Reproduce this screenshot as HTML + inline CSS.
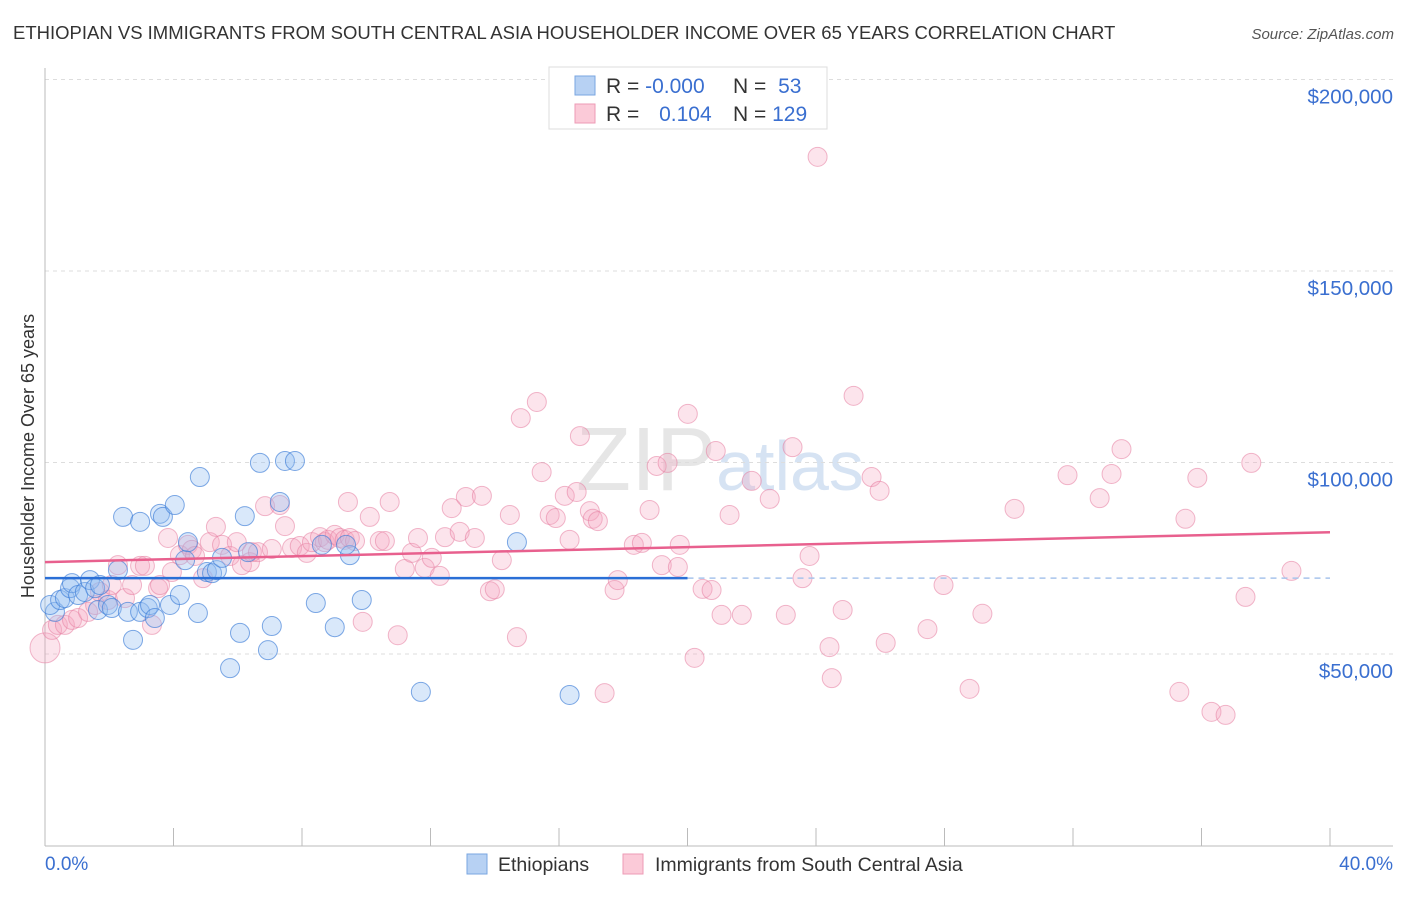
<!DOCTYPE html>
<html><head><meta charset="utf-8"><style>
body{margin:0;background:#fff;font-family:"Liberation Sans",sans-serif;}
svg text{font-family:"Liberation Sans",sans-serif;}
</style></head><body>
<svg id="chart" width="1406" height="892" xmlns="http://www.w3.org/2000/svg">
<text x="13" y="39" font-size="18.5" fill="#333">ETHIOPIAN VS IMMIGRANTS FROM SOUTH CENTRAL ASIA HOUSEHOLDER INCOME OVER 65 YEARS CORRELATION CHART</text>
<text x="1394" y="39" font-size="15" fill="#555" font-style="italic" text-anchor="end">Source: ZipAtlas.com</text>
<text x="720" y="490" font-size="90" fill="#e6e6e6" text-anchor="middle" font-family="Liberation Serif"><tspan>ZIP</tspan><tspan font-family="Liberation Sans" fill="#d6e3f3" font-size="70">atlas</tspan></text>
<text transform="translate(34,456) rotate(-90)" font-size="18" fill="#333" text-anchor="middle">Householder Income Over 65 years</text>
<g id="grid"></g><g id="axes"></g><g id="pts"></g><g id="lines"></g>
<g>
<rect x="549" y="67" width="278" height="62" fill="#fff" stroke="#ddd"/>
<rect x="575" y="76" width="20" height="19" fill="#b7d1f3" stroke="#7aa6e0"/>
<rect x="575" y="104" width="20" height="19" fill="#fbcad8" stroke="#ee9bb6"/>
<text x="606" y="93" font-size="21" fill="#333">R = <tspan fill="#3a6fd0">-0.000</tspan></text>
<text x="733" y="93" font-size="21" fill="#333">N = <tspan fill="#3a6fd0" dx="6">53</tspan></text>
<text x="606" y="121" font-size="21" fill="#333">R = <tspan fill="#3a6fd0" dx="14">0.104</tspan></text>
<text x="733" y="121" font-size="21" fill="#333">N = <tspan fill="#3a6fd0">129</tspan></text>
</g>
<g>
<rect x="467" y="854" width="20" height="20" fill="#b7d1f3" stroke="#7aa6e0"/>
<text x="498" y="871" font-size="19.5" fill="#333">Ethiopians</text>
<rect x="623" y="854" width="20" height="20" fill="#fbcad8" stroke="#ee9bb6"/>
<text x="655" y="871" font-size="19.5" fill="#333">Immigrants from South Central Asia</text>
</g>
</svg>
<script>
const yTicks=[50000,100000,150000,200000];
const yTickLabels=["$50,000","$100,000","$150,000","$200,000"];
const xTickLabels=["0.0%","40.0%"];
const blueX=[0.31,0.16,0.47,0.62,0.78,0.84,1.03,1.24,1.40,1.56,1.71,1.65,1.96,2.08,2.27,2.43,2.96,2.74,2.58,2.96,3.20,3.27,3.42,3.58,3.67,3.89,4.04,4.20,4.36,4.45,4.76,4.82,5.04,5.20,5.35,5.51,5.76,6.07,6.22,6.32,6.69,6.94,7.06,7.31,7.47,7.78,8.43,8.62,9.02,9.49,9.37,9.86,11.70,14.69,16.33];
const blueY=[61.0,62.8,64.1,64.6,67.2,68.5,65.4,66.2,69.3,67.2,68.0,61.5,62.8,62.0,71.9,85.8,84.5,53.7,61.0,61.0,62.0,62.8,59.4,86.6,85.8,62.8,88.9,65.4,74.5,79.2,60.7,96.2,71.4,71.1,71.9,75.1,46.3,55.5,86.0,76.6,99.9,51.0,57.3,89.7,100.4,100.4,63.3,78.5,57.0,75.8,78.5,64.1,40.1,79.2,39.3];
const pinkX=[0.0,0.22,0.40,0.62,0.84,1.03,1.34,1.56,1.71,1.96,2.08,2.27,2.49,2.71,2.96,3.11,3.33,3.52,3.58,3.83,3.95,4.20,4.45,4.57,4.67,4.92,5.13,5.32,5.51,5.76,5.97,6.13,6.38,6.44,6.63,6.85,7.06,7.31,7.47,7.69,7.93,8.15,8.31,8.56,8.71,8.81,9.02,9.18,9.33,9.49,9.65,9.89,9.43,10.11,10.42,10.58,10.73,10.98,11.20,11.42,11.61,11.82,12.04,12.29,12.45,12.66,12.91,13.10,13.38,13.60,13.85,14.00,14.22,14.47,14.69,14.81,15.31,15.46,15.71,15.90,16.18,16.33,16.55,16.65,16.96,17.05,17.21,17.42,17.73,17.83,18.33,18.58,18.82,19.04,19.20,19.38,19.70,19.76,20.01,20.22,20.47,20.75,20.88,21.06,21.31,21.69,22.00,22.56,23.06,23.27,23.58,23.80,24.05,24.42,24.49,24.83,25.17,25.73,25.98,26.17,27.47,27.97,28.78,29.18,30.18,31.83,32.83,33.20,33.51,35.31,35.50,35.87,36.31,36.75,37.37,37.55,38.80];
const pinkY=[51.6,56.3,57.6,57.6,58.9,59.4,61.0,62.8,66.2,64.1,68.0,73.2,64.6,68.0,73.0,73.0,57.6,67.2,68.0,80.3,71.4,75.8,78.5,77.2,75.6,69.8,79.2,83.2,78.5,75.6,79.2,73.2,74.0,76.6,76.6,88.6,77.4,88.9,83.4,77.7,78.2,76.4,79.2,80.5,79.2,79.8,81.1,80.3,79.8,80.3,79.5,58.4,89.7,85.8,79.5,79.5,89.7,54.9,72.2,76.4,80.3,72.5,75.1,70.4,80.5,88.1,81.9,91.0,80.3,91.3,66.4,66.9,74.5,86.3,54.4,111.6,115.8,97.5,86.3,85.5,91.3,79.8,92.3,106.9,87.3,85.3,84.7,39.8,66.7,69.3,78.5,79.0,87.6,99.1,73.2,99.9,72.7,78.5,112.7,49.0,67.0,66.7,103.0,60.2,86.3,60.2,95.2,90.5,60.2,104.0,69.8,75.6,179.8,51.8,43.7,61.5,117.4,96.2,92.6,52.9,56.5,68.0,40.9,60.5,87.9,96.7,90.7,97.0,103.5,40.1,85.3,96.0,34.9,34.1,64.9,99.9,71.7];
const blueFit=[69800,69800];
const pinkFit=[74000,81800];

const NS="http://www.w3.org/2000/svg";
const X0=45,X1=1330,Y0=845.5,PXK=3.83;
function sx(p){return X0+p*(X1-X0)/40;}
function sy(v){return Y0-v/1000*PXK;}
function mk(tag,attrs,parent){const e=document.createElementNS(NS,tag);for(const k in attrs)e.setAttribute(k,attrs[k]);document.getElementById(parent).appendChild(e);return e;}

yTicks.forEach((t,i)=>{
  const g=mk('line',{x1:45,x2:1393,y1:sy(t),y2:sy(t),stroke:'#ddd','stroke-dasharray':'4,4'},'grid');
  
  
  const l=mk('text',{x:1393,y:sy(t)+24,'font-size':20.5,fill:'#3a6fd0','text-anchor':'end'},'grid');
  l.textContent=yTickLabels[i];
  
  
});
const ax=mk('line',{x1:45,x2:45,y1:68,y2:846,stroke:'#bbb'},'axes');


const bx=mk('line',{x1:45,x2:1393,y1:846,y2:846,stroke:'#bbb'},'axes');


for(let i=0;i<=10;i++){const t=mk('line',{x1:sx(i*4),x2:sx(i*4),y1:828,y2:846,stroke:'#bbb'},'axes');

}
const xl0=mk('text',{x:45,y:870,'font-size':19,fill:'#3a6fd0'},'axes');xl0.textContent=xTickLabels[0];


const xl1=mk('text',{x:1393,y:870,'font-size':19,fill:'#3a6fd0','text-anchor':'end'},'axes');xl1.textContent=xTickLabels[1];



pinkX.forEach((x,i)=>{
  const c=mk('circle',{cx:sx(x),cy:sy(pinkY[i]*1000),r:i===0?15:9.5,fill:'rgba(245,165,192,0.3)',stroke:'rgba(230,125,160,0.55)','stroke-width':1},'pts');
  
  
});
blueX.forEach((x,i)=>{
  const c=mk('circle',{cx:sx(x),cy:sy(blueY[i]*1000),r:9.5,fill:'rgba(145,188,240,0.35)',stroke:'rgba(60,125,215,0.65)','stroke-width':1},'pts');
  
  
});
const bl=mk('line',{x1:sx(0),x2:sx(20),y1:sy(blueFit[0]),y2:sy(blueFit[0]+(blueFit[1]-blueFit[0])/2),stroke:'#2a6fd6','stroke-width':2.5},'lines');


const bd=mk('line',{x1:sx(20),x2:sx(40),y1:sy(blueFit[0]+(blueFit[1]-blueFit[0])/2),y2:sy(blueFit[1]),stroke:'#a8c4ec','stroke-width':1.5,'stroke-dasharray':'6,5'},'lines');


const pl=mk('line',{x1:sx(0),x2:sx(40),y1:sy(pinkFit[0]),y2:sy(pinkFit[1]),stroke:'#e8608e','stroke-width':2.5},'lines');


</script>
</body></html>
